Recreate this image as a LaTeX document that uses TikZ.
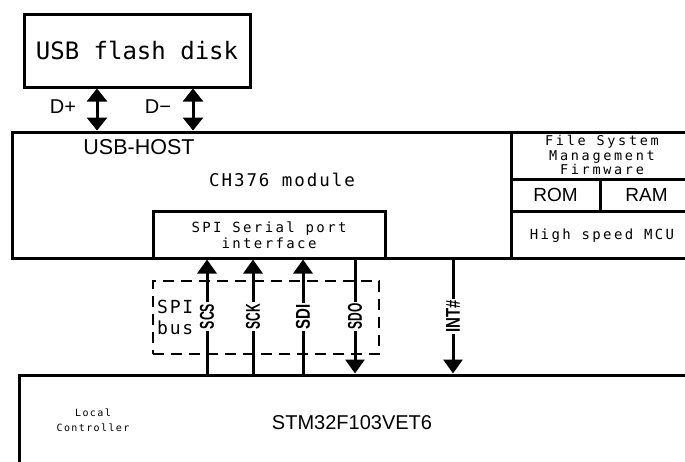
\documentclass[tikz,border=0pt]{standalone}
\usepackage{fontspec}
\usepackage{graphicx}
\usetikzlibrary{arrows.meta}
\newfontfamily\monof{DejaVu Sans Mono}
\newfontfamily\sansf{Liberation Sans}
\newcommand{\fsz}[2]{\fontsize{#1}{#2}\selectfont}
\begin{document}
\begin{tikzpicture}[x=1pt,y=-1pt,
  box/.style={draw, line width=3pt, rectangle, inner sep=0pt},
  arr/.style={line width=3pt, -{Triangle[width=19pt,length=14pt]}},
  dbl/.style={line width=3pt, {Triangle[width=20pt,length=13pt]}-{Triangle[width=20pt,length=13pt]}},
  lbl/.style={fill=white, inner sep=1.5pt, rotate=90, font=\sansf\bfseries\fsz{20}{20}},
  sp/.style={font=\monof\addfontfeature{LetterSpace=17}\fsz{14}{16.5}, align=center, inner sep=0pt},
]
\useasboundingbox (0,0) rectangle (685,461);
\clip (0,0) rectangle (685,461);

% boxes
\node[box, minimum width=226pt, minimum height=73pt, font=\monof\fsz{24}{26}] (usb) at (137,50.5) {USB flash disk};
\node[box, minimum width=499pt, minimum height=126pt] (ch) at (261.5,195) {};
\node[box, minimum width=232pt, minimum height=47pt] (spi) at (269,234.5) {};
\node[box, minimum width=182pt, minimum height=47pt] (fs) at (602,155.5) {};
\node[box, minimum width=89pt, minimum height=32pt, font=\sansf\fsz{19}{20}] (rom) at (555.5,195) {ROM};
\node[box, minimum width=93pt, minimum height=32pt, font=\sansf\fsz{19}{20}] (ram) at (646.5,195) {RAM};
\node[box, minimum width=182pt, minimum height=47pt] (hs) at (602,234.5) {};
\node[box, minimum width=681pt, minimum height=105pt] (mcu) at (359.5,427.5) {};
\node[draw, dashed, dash pattern=on 11pt off 7pt, line width=2.5pt, minimum width=226pt, minimum height=73pt] (bus) at (266,317.5) {};

% texts
\node[font=\sansf\fsz{21.5}{22}, inner sep=0pt] (host) at (139,147) {USB-HOST};
\node[font=\monof\addfontfeature{LetterSpace=11}\fsz{17.5}{20}, inner sep=0pt] (chl) at (282,180) {CH376 module};
\node[sp] (spil) at (269,235) {SPI Serial port\\interface};
\node[sp, font=\monof\addfontfeature{LetterSpace=20}\fsz{13.5}{14.5}] (fsl) at (602,155) {File System\\Management\\Firmware};
\node[sp] (hsl) at (602,236) {High speed MCU};
\node[font=\monof\addfontfeature{LetterSpace=14}\fsz{10}{15}, align=center, inner sep=0pt] (loc) at (93,420) {Local\\Controller};
\node[font=\sansf\fsz{20}{22}, inner sep=0pt] (stm) at (352,423) {STM32F103VET6};
\node[font=\monof\addfontfeature{LetterSpace=10}\fsz{18}{21}, align=left, anchor=west, inner sep=0pt] (busl) at (157,317.5) {SPI\\bus};
\node[font=\sansf\fsz{20}{20}, inner sep=0pt] (dpl) at (63,107) {D+};
\node[font=\sansf\fsz{20}{20}, inner sep=0pt] (dml) at (158,107) {D−};

% x positions
\coordinate (xdp) at (97,0);
\coordinate (xdm) at (193,0);
\coordinate (xscs) at (207,0);
\coordinate (xsck) at (253,0);
\coordinate (xsdi) at (303,0);
\coordinate (xsdo) at (355,0);
\coordinate (xint) at (453,0);

% connectors
\draw[dbl] (usb.south -| xdp) -- (ch.north -| xdp);
\draw[dbl] (usb.south -| xdm) -- (ch.north -| xdm);
\draw[arr] (mcu.north -| xscs) -- node[lbl] (scsl) {\scalebox{0.62}[1]{SCS}} (spi.south -| xscs);
\draw[arr] (mcu.north -| xsck) -- node[lbl] (sckl) {\scalebox{0.6}[1]{SCK}} (spi.south -| xsck);
\draw[arr] (mcu.north -| xsdi) -- node[lbl] (sdil) {\scalebox{0.75}[1]{SDI}} (spi.south -| xsdi);
\draw[arr] (spi.south -| xsdo) -- node[lbl] (sdol) {\scalebox{0.6}[1]{SDO}} (mcu.north -| xsdo);
\draw[arr] (ch.south -| xint) -- node[lbl] (intl) {\scalebox{0.75}[1]{INT\#}} (mcu.north -| xint);
\end{tikzpicture}
\end{document}
